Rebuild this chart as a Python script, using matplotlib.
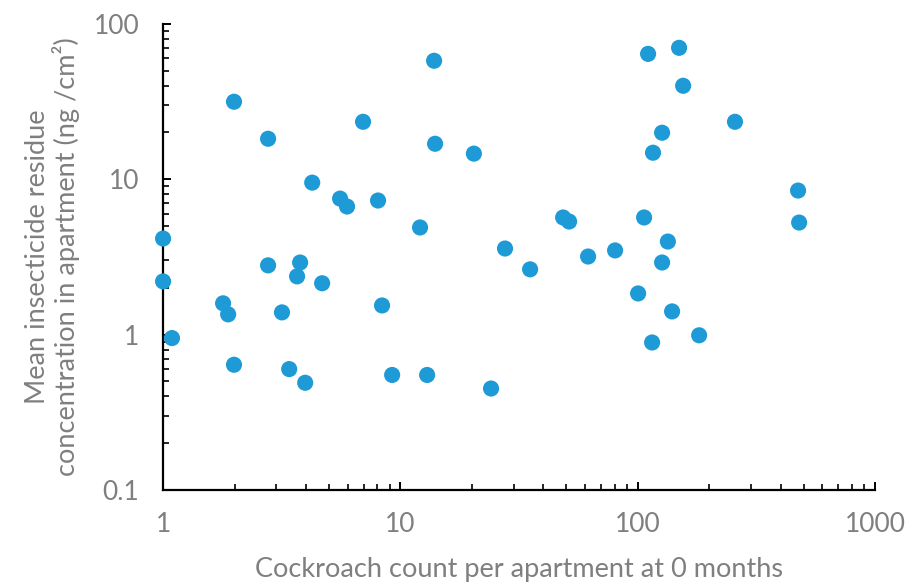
import matplotlib
matplotlib.use("Agg")
import matplotlib.pyplot as plt
from matplotlib.ticker import LogLocator, FixedLocator, NullFormatter

# cockroach count per apartment at 0 months
counts = [1.0, 1.0, 1.09, 1.99, 2.77, 2.77, 1.79, 1.88, 1.99, 3.17,
          3.40, 3.97, 3.67, 3.78, 4.68, 4.25, 5.57, 5.96, 6.96, 8.05,
          8.37, 9.23, 12.1, 12.96, 13.87, 14.0, 20.4, 24.1, 27.6, 35.2,
          48.5, 51.4, 61.8, 80.3, 100.4, 106.4, 110.6, 115, 116, 126.7,
          126.7, 134, 139.6, 149.4, 155.4, 181.5, 257, 474, 479]
# mean insecticide residue (ng/cm2)
residue = [4.15, 2.2, 0.95, 31.5, 18.2, 2.79, 1.59, 1.35, 0.64, 1.39,
           0.60, 0.49, 2.37, 2.91, 2.14, 9.5, 7.5, 6.67, 23.4, 7.29,
           1.54, 0.55, 4.89, 0.55, 57.8, 16.9, 14.6, 0.45, 3.58, 2.63,
           5.67, 5.34, 3.18, 3.48, 1.84, 5.67, 64, 0.89, 14.8, 2.91,
           19.9, 3.97, 1.41, 70, 39.9, 0.99, 23.4, 8.45, 5.26]

xticks = [1, 10, 100, 1000]
yticks = [0.1, 1, 10, 100]
gray = "#7f7f7f"

plt.rcParams['font.family'] = ['Lato', 'DejaVu Sans']

fig = plt.figure(figsize=(9.06, 5.82), dpi=100)
ax = fig.add_axes([0.18, 0.158, 0.7858, 0.8012])

ax.scatter(counts, residue, s=135, color="#1e9bd7", edgecolors="none", zorder=3,
           clip_on=False)

ax.set_xscale("log")
ax.set_yscale("log")
ax.set_xlim(1, 1000)
ax.set_ylim(0.1, 100)

ax.xaxis.set_major_locator(FixedLocator(xticks))
ax.yaxis.set_major_locator(FixedLocator(yticks))
ax.set_xticklabels([str(t) for t in xticks])
ax.set_yticklabels([str(t) for t in yticks])
ax.xaxis.set_minor_locator(LogLocator(base=10, subs=range(2, 10)))
ax.yaxis.set_minor_locator(LogLocator(base=10, subs=range(2, 10)))
ax.xaxis.set_minor_formatter(NullFormatter())
ax.yaxis.set_minor_formatter(NullFormatter())

for side in ("top", "right"):
    ax.spines[side].set_visible(False)
for side in ("left", "bottom"):
    ax.spines[side].set_linewidth(1.6)
    ax.spines[side].set_color("black")

ax.tick_params(which="major", direction="in", length=6, width=1.4,
               labelsize=19, labelcolor=gray, color="black")
ax.tick_params(which="minor", direction="in", length=4.5, width=1.2, color="black")
ax.tick_params(axis="x", which="major", pad=16)
ax.tick_params(axis="y", which="major", pad=17)

ax.set_xlabel("Cockroach count per apartment at 0 months", fontsize=19.5,
              color=gray, labelpad=14)
ax.set_ylabel("Mean insecticide residue\nconcentration in apartment (ng /cm\u00b2)",
              fontsize=19.5, color=gray, labelpad=10, linespacing=1.1)

fig.savefig("out.png", dpi=100)
